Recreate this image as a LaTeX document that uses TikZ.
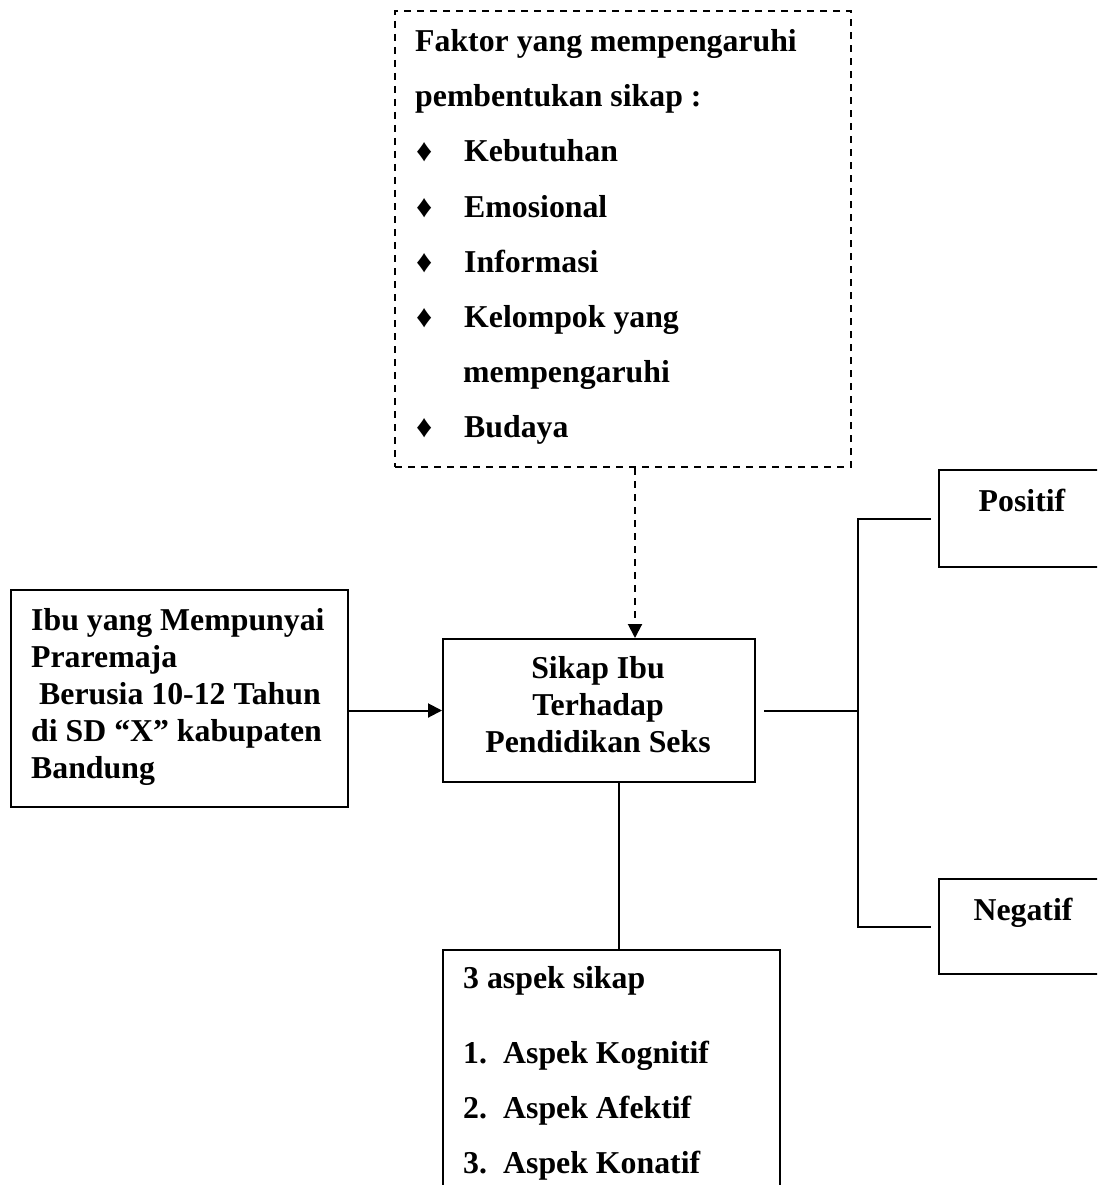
\documentclass[tikz,border=0pt]{standalone}
\usepackage{fontspec}
\setmainfont{Liberation Serif}
\usetikzlibrary{arrows.meta}
\begin{document}
\begin{tikzpicture}[x=1pt,y=-1pt,
  every node/.style={font=\fontsize{31.8pt}{38pt}\selectfont\bfseries, inner sep=0pt},
  box/.style={draw, line width=2pt, inner sep=0pt, anchor=north west},
  dbox/.style={box, dash pattern=on 7pt off 6pt},
  txt/.style={anchor=base west},
  ctxt/.style={anchor=base},
  conn/.style={line width=2pt},
  arr/.style={conn, -{Triangle[length=14pt,width=14pt]}},
  darr/.style={arr, dash pattern=on 7pt off 6pt}]
\useasboundingbox (0,0) rectangle (1097,1185);
\clip (0,0) rectangle (1097,1185);
\fill[white] (0,0) rectangle (1097,1185);

% boxes
\node[dbox, minimum width=456pt, minimum height=456pt] (fak) at (394,10) {};
\node[box, minimum width=337pt, minimum height=217pt] (ibu) at (10,589) {};
\node[box, minimum width=312pt, minimum height=143pt] (sik) at (442,638) {};
\node[box, minimum width=190pt, minimum height=97pt] (pos) at (938,469) {};
\node[box, minimum width=190pt, minimum height=95pt] (neg) at (938,878) {};
\node[box, minimum width=337pt, minimum height=260pt] (asp) at (442,949) {};

% top box text
\node[txt] (f1) at (415,52) {Faktor yang mempengaruhi};
\node[txt] (f2) at (415,107) {pembentukan sikap :};
\node[txt] (b1) at (416,162) {♦};
\node[txt] (t1) at (464,162) {Kebutuhan};
\node[txt] (b2) at (416,217) {♦};
\node[txt] (t2) at (464,217) {Emosional};
\node[txt] (b3) at (416,272) {♦};
\node[txt] (t3) at (464,272) {Informasi};
\node[txt] (b4) at (416,327) {♦};
\node[txt] (t4) at (464,327) {Kelompok yang};
\node[txt] (t4b) at (463,382) {mempengaruhi};
\node[txt] (b5) at (416,437) {♦};
\node[txt] (t5) at (464,437) {Budaya};

% left box text
\node[txt] (l1) at (31,630) {Ibu yang Mempunyai};
\node[txt] (l2) at (31,667) {Praremaja};
\node[txt] (l3) at (39,704) {Berusia 10-12 Tahun};
\node[txt] (l4) at (31,741) {di SD “X” kabupaten};
\node[txt] (l5) at (31,778) {Bandung};

% center box text
\node[ctxt] (s1) at (598,678) {Sikap Ibu};
\node[ctxt] (s2) at (598,715) {Terhadap};
\node[ctxt] (s3) at (598,752) {Pendidikan Seks};

% right boxes text
\node[ctxt] (p1) at (1022,511) {Positif};
\node[ctxt] (n1) at (1023,920) {Negatif};

% bottom box text
\node[txt] (a0) at (463,988) {3 aspek sikap};
\node[txt] (a1n) at (463,1063) {1.};
\node[txt] (a1) at (503,1063) {Aspek Kognitif};
\node[txt] (a2n) at (463,1118) {2.};
\node[txt] (a2) at (503,1118) {Aspek Afektif};
\node[txt] (a3n) at (463,1173) {3.};
\node[txt] (a3) at (503,1173) {Aspek Konatif};

% connectors
\coordinate (dx) at (635,0);
\draw[darr] (fak.south -| dx) -- (sik.north -| dx);
\draw[arr] (ibu.east |- sik.west) -- (sik.west);
\coordinate (jx) at (858,0);
\coordinate (j) at (jx |- sik.east);
\draw[conn] ([xshift=8pt]sik.east) -- (j);
\draw[conn] ([xshift=-7pt]pos.west) -| (j) |- ([xshift=-7pt]neg.west);
\coordinate (bx) at (619,0);
\draw[conn] (sik.south -| bx) -- (asp.north -| bx);
\end{tikzpicture}
\end{document}
